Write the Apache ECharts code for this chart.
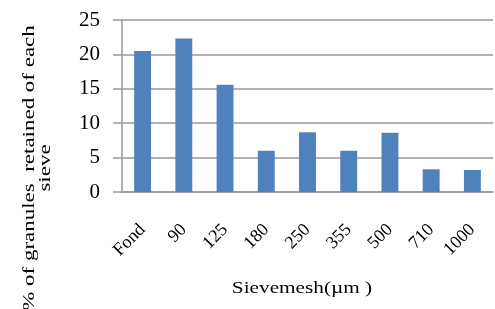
<!DOCTYPE html>
<html>
<head>
<meta charset="utf-8">
<script src="https://cdn.jsdelivr.net/npm/echarts@6/dist/echarts.min.js"></script>
<style>
  html, body { margin: 0; padding: 0; background: #fff; }
  #chart { width: 495px; height: 309px; }
</style>
</head>
<body>
<div id="chart"></div>
<script>
// 筛孔尺寸与各筛截留颗粒百分比
const sieveMesh = ['Fond', '90', '125', '180', '250', '355', '500', '710', '1000']
const retained = [20.5, 22.3, 15.6, 6.0, 8.7, 6.0, 8.6, 3.3, 3.2]
const yTicks = [0, 5, 10, 15, 20, 25]
const xTitle = 'Sievemesh(\u00b5m )'
const yTitle = '% of granules  retained of each\nsieve'

const chart = echarts.init(document.getElementById('chart'))
const serif = '"Liberation Serif", "DejaVu Serif", serif'
const axisGrey = '#999'

chart.setOption({
  animation: false,
  grid: { left: 122, right: 2, top: 20, bottom: 117 },
  // 坐标轴标题 (原图文字有横向拉伸, 用 graphic 的 scale 模拟)
  graphic: [
    {
      type: 'text',
      x: 302, y: 289,
      scaleX: 1.25,
      style: {
        text: xTitle, font: '17px ' + serif, fill: '#000',
        align: 'center', verticalAlign: 'middle'
      }
    },
    {
      type: 'text',
      x: 38, y: 168,
      rotation: Math.PI / 2,
      scaleX: 1.35,
      style: {
        text: yTitle, font: '17px ' + serif, fill: '#000',
        align: 'center', verticalAlign: 'middle', lineHeight: 16
      }
    }
  ],
  xAxis: {
    type: 'category',
    data: sieveMesh,
    axisLine: { lineStyle: { color: axisGrey, width: 1.5 } },
    axisTick: { show: false },
    axisLabel: {
      rotate: 45,
      margin: 35,
      fontFamily: serif,
      fontSize: 18,
      color: '#000',
      interval: 0
    }
  },
  yAxis: {
    type: 'value',
    min: 0,
    max: yTicks[yTicks.length - 1],
    interval: 5,
    axisLine: { show: true, lineStyle: { color: axisGrey, width: 1.5 } },
    axisTick: { show: true, length: 9, lineStyle: { color: axisGrey, width: 1.5 } },
    splitLine: { lineStyle: { color: axisGrey, width: 1.5 } },
    axisLabel: {
      margin: 22,
      fontFamily: serif,
      fontSize: 21,
      color: '#000'
    }
  },
  series: [{
    type: 'bar',
    data: retained,
    barWidth: '41%',
    itemStyle: { color: '#4F81BD' }
  }]
})
</script>
</body>
</html>
